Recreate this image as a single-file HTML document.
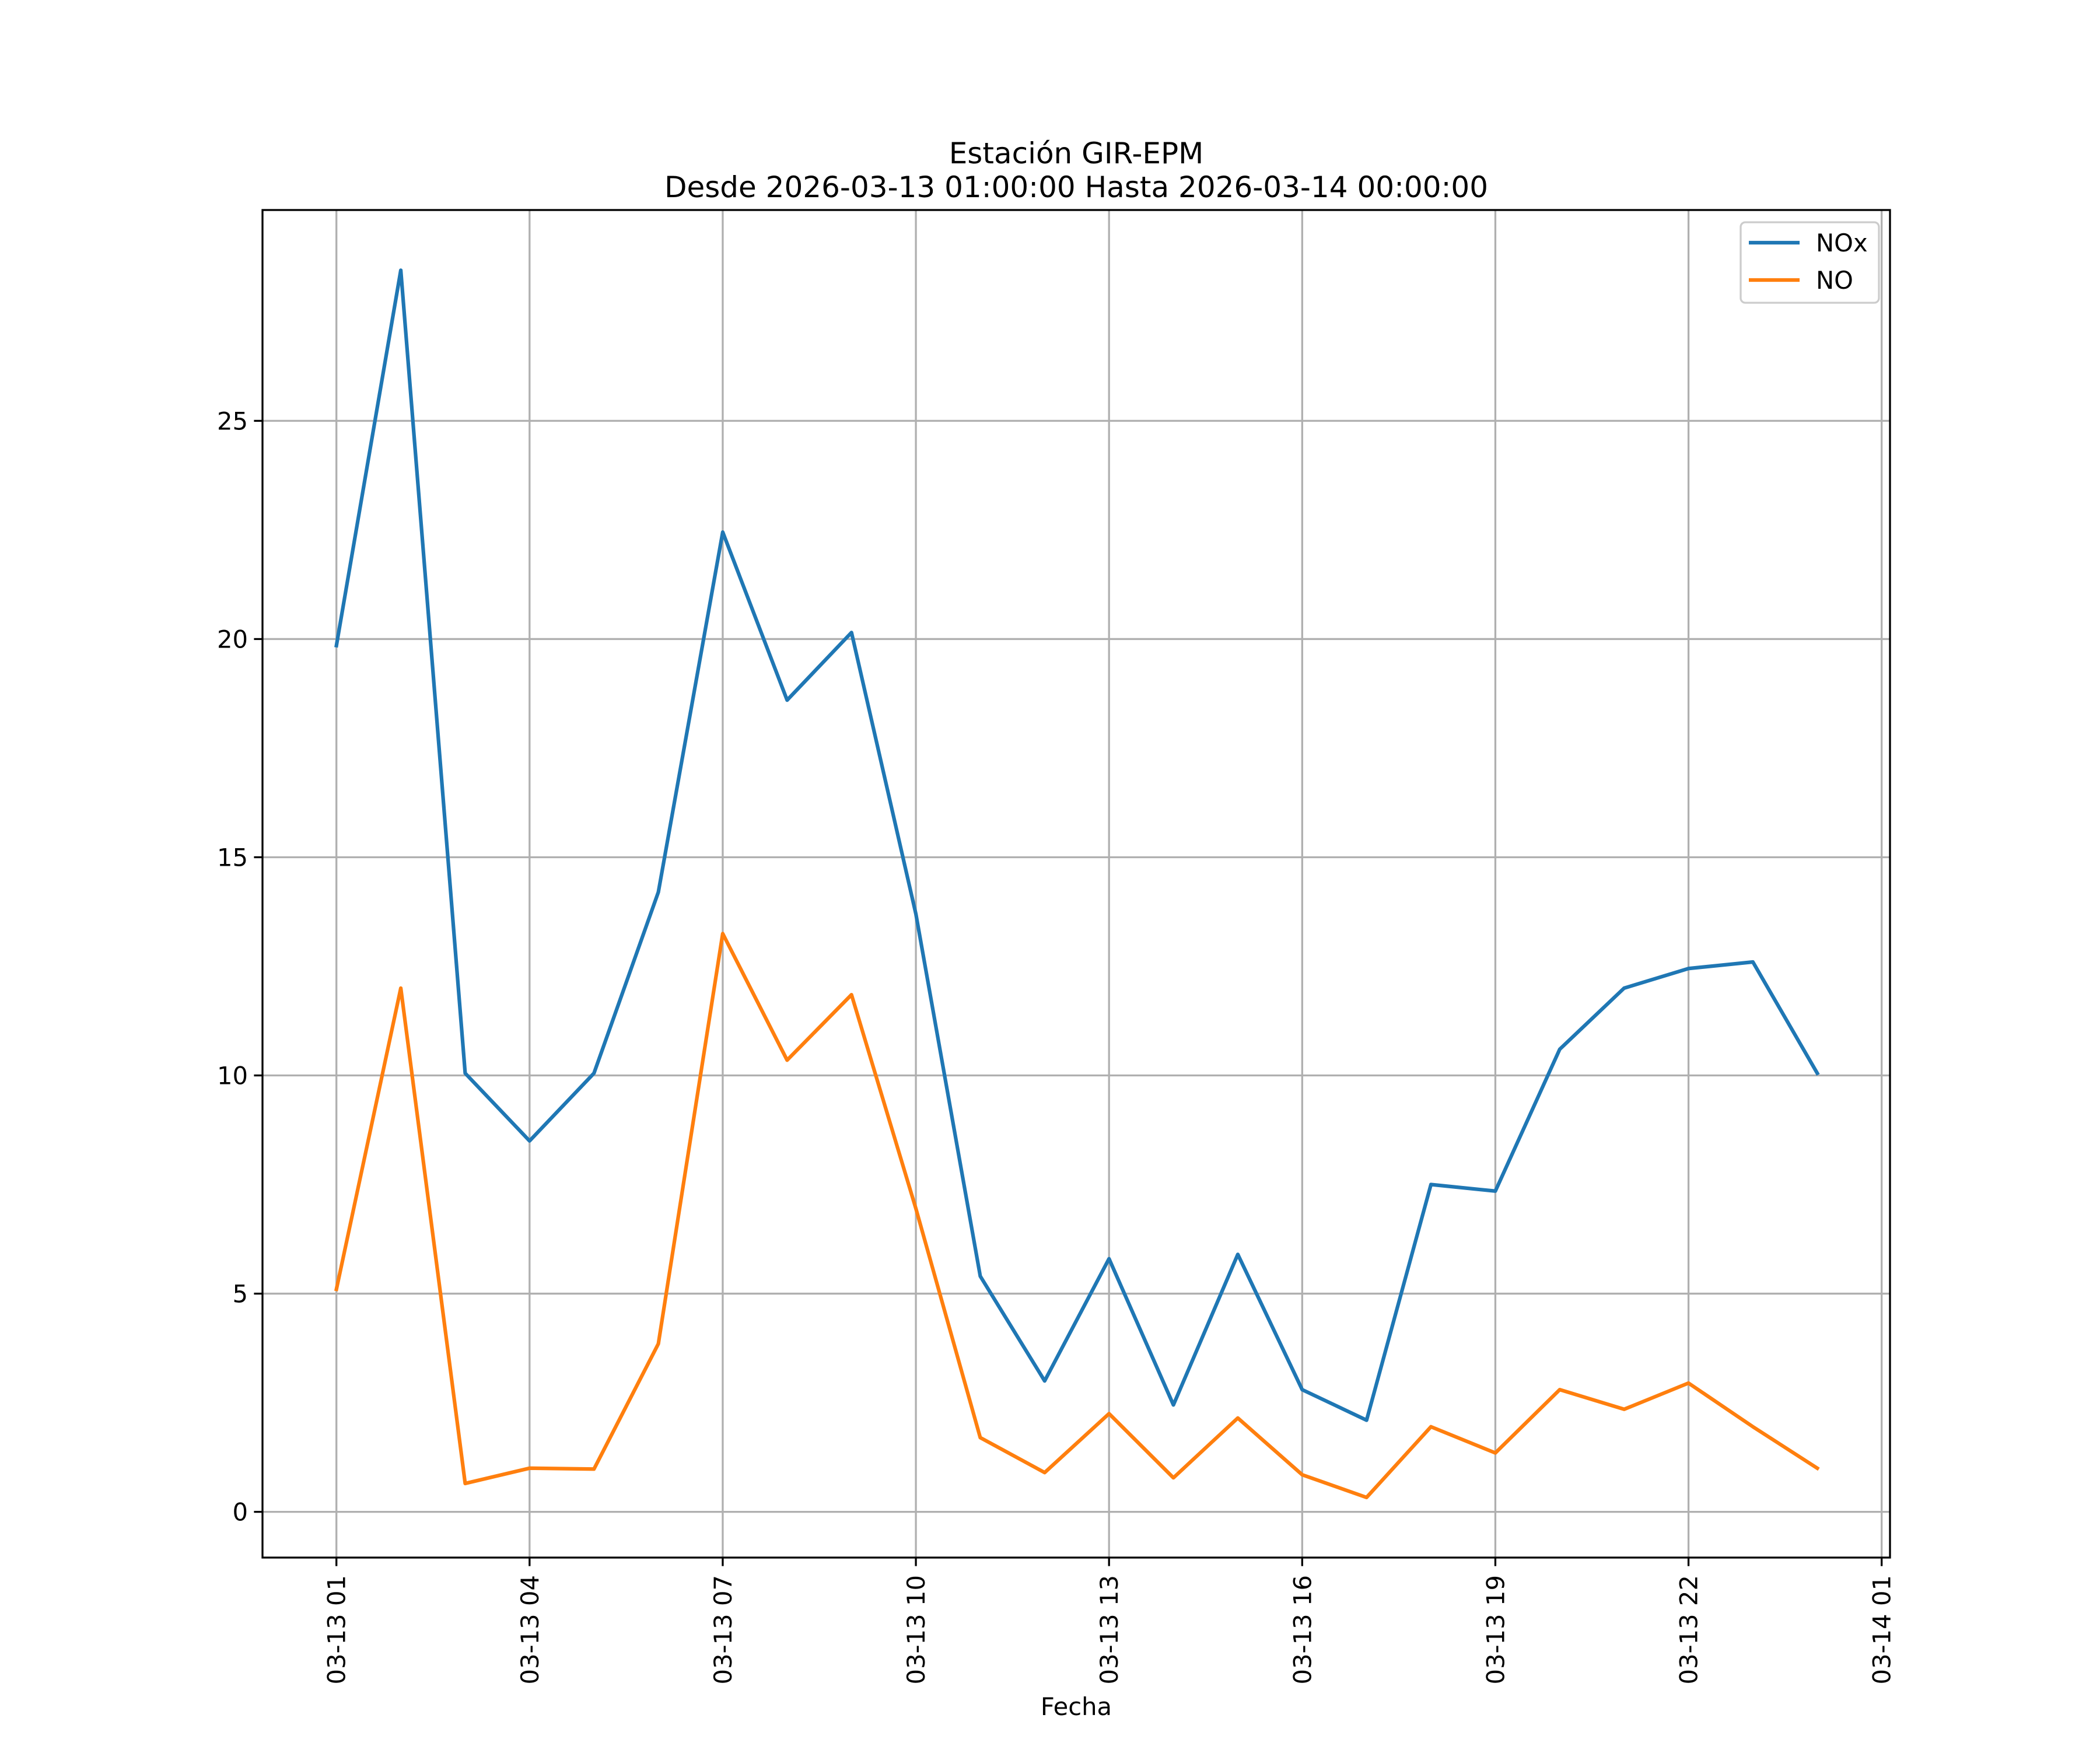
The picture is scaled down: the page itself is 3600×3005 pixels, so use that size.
<!DOCTYPE html>
<html><head><meta charset="utf-8"><style>
html,body{margin:0;padding:0;background:#fff;}
svg text{font-family:"DejaVu Sans","Liberation Sans",sans-serif;fill:#000;}
</style></head><body>
<svg id="chart" width="3600" height="3000" viewBox="0 0 3600 3000" xmlns="http://www.w3.org/2000/svg">
<rect width="3600" height="3000" fill="#fff"/>
<text x="1845" y="280" font-size="50" text-anchor="middle">Estación GIR-EPM</text>
<text x="1845" y="338" font-size="50" text-anchor="middle">Desde 2026-03-13 01:00:00 Hasta 2026-03-14 00:00:00</text>
<g id="grid"></g>
<g id="series"></g>
<rect x="450" y="360" width="2790" height="2310" fill="none" stroke="#000" stroke-width="3.3"/>
<g id="axes"></g>
<text x="1845" y="2940" font-size="41.7" text-anchor="middle">Fecha</text>
<g>
<rect x="2984" y="381" width="237" height="138" rx="8" fill="#fff" fill-opacity="0.8" stroke="#ccc" stroke-width="3.3"/>
<line x1="2998" y1="416" x2="3085" y2="416" stroke="#1f77b4" stroke-width="6.25"/>
<text x="3113" y="431" font-size="41.7">NOx</text>
<line x1="2998" y1="480" x2="3085" y2="480" stroke="#ff7f0e" stroke-width="6.25"/>
<text x="3113" y="495" font-size="41.7">NO</text>
</g>
</svg>
<script>
const hours = [1,2,3,4,5,6,7,8,9,10,11,12,13,14,15,16,17,18,19,20,21,22,23,24];
const noxValues = [19.85,28.45,10.05,8.5,10.05,14.2,22.45,18.6,20.15,13.7,5.4,3.0,5.8,2.45,5.9,2.8,2.1,7.5,7.35,10.6,12.0,12.45,12.6,10.05];
const noValues = [5.1,12.0,0.65,1.0,0.98,3.85,13.25,10.35,11.85,6.95,1.7,0.9,2.25,0.78,2.15,0.85,0.33,1.95,1.35,2.8,2.35,2.95,1.95,1.0];
const yTicks = [0,5,10,15,20,25];
const xTickHours = [1,4,7,10,13,16,19,22,25];
const xTickLabels = ["03-13 01","03-13 04","03-13 07","03-13 10","03-13 13","03-13 16","03-13 19","03-13 22","03-14 01"];

const NS="http://www.w3.org/2000/svg";
const L=450,R=3240,T=360,B=2670;
function xs(h){return 576.7+(h-1)*(3225.7-576.7)/24;}
function ys(v){return 2591.6-v*(2591.6-721.4)/25;}
function mk(tag,attrs,parent){const e=document.createElementNS(NS,tag);for(const k in attrs)e.setAttribute(k,attrs[k]);parent.appendChild(e);return e;}
const grid=document.getElementById('grid'),axes=document.getElementById('axes'),series=document.getElementById('series');
yTicks.forEach(v=>{
  const y=ys(v);
  const g=mk('line',{x1:L,x2:R,y1:y,y2:y,stroke:'#b0b0b0','stroke-width':3.3},grid);
  
  
  const t=mk('line',{x1:L-14.6,x2:L,y1:y,y2:y,stroke:'#000','stroke-width':3.3},axes);
  
  
  const tx=mk('text',{x:425,y:y+15,'font-size':41.7,'text-anchor':'end'},axes);
  tx.textContent=String(v);
  
  
});
xTickHours.forEach((h,i)=>{
  const x=xs(h);
  const g=mk('line',{x1:x,x2:x,y1:T,y2:B,stroke:'#b0b0b0','stroke-width':3.3},grid);
  
  
  const t=mk('line',{x1:x,x2:x,y1:B,y2:B+14.6,stroke:'#000','stroke-width':3.3},axes);
  
  
  const tx=mk('text',{x:0,y:0,'font-size':41.7,'text-anchor':'end',transform:`translate(${x+15},2700) rotate(-90)`},axes);
  tx.textContent=xTickLabels[i];
  
  
});
function line(vals,color,name){
  const p=mk('polyline',{points:vals.map((v,i)=>xs(hours[i])+','+ys(v)).join(' '),fill:'none',stroke:color,'stroke-width':6.25,'stroke-linejoin':'round','stroke-linecap':'square'},series);
  
  
}
line(noxValues,'#1f77b4','nox-line');
line(noValues,'#ff7f0e','no-line');
</script>
</body></html>
